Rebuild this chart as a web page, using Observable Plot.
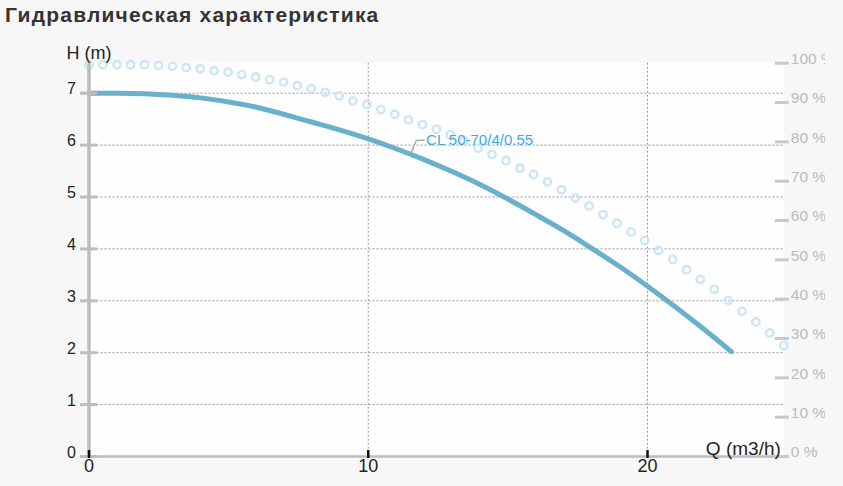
<!DOCTYPE html>
<html>
<head>
<meta charset="utf-8">
<script src="https://cdn.jsdelivr.net/npm/d3@7"></script>
<script src="https://cdn.jsdelivr.net/npm/@observablehq/plot@0.6"></script>
<style>
  body { margin: 0; background: #f7f7f7; font-family: "Liberation Sans", Arial, sans-serif; }
  #title { height: 36px; line-height: 30px; padding-left: 5px; font-size: 21px; letter-spacing: 1.2px; font-weight: bold; color: #333; }
</style>
</head>
<body>
<div id="title">Гидравлическая характеристика</div>
<div id="chart"></div>
<script>
// напор H(Q)
const hQ = [0, 1, 2, 3, 4, 5, 6, 7, 8, 9, 10, 11, 12, 13, 14, 15, 16, 17, 18, 19, 20, 21, 22, 23];
const hH = [7.0, 7.0, 6.99, 6.96, 6.91, 6.83, 6.73, 6.59, 6.44, 6.29, 6.12, 5.93, 5.72, 5.49, 5.24, 4.96, 4.66, 4.35, 4.01, 3.66, 3.28, 2.88, 2.46, 2.02];

// кпд, %
const effQ = [0, 0.5, 1.0, 1.49, 1.99, 2.49, 2.99, 3.48, 3.98, 4.48, 4.98, 5.47, 5.97, 6.47, 6.97, 7.46,
  7.96, 8.46, 8.96, 9.45, 9.95, 10.45, 10.95, 11.44, 11.94, 12.44, 12.94, 13.43, 13.93, 14.43, 14.93,
  15.43, 15.92, 16.42, 16.92, 17.42, 17.91, 18.41, 18.91, 19.41, 19.9, 20.4, 20.9, 21.4, 21.89, 22.39,
  22.89, 23.39, 23.88, 24.38, 24.88];
const effP = [99.6, 99.6, 99.6, 99.6, 99.6, 99.4, 99.2, 98.9, 98.6, 98.1, 97.7, 97.1, 96.5, 95.8, 95.2, 94.3,
  93.5, 92.6, 91.7, 90.4, 89.5, 88.2, 87.0, 85.6, 84.4, 83.2, 81.8, 80.3, 78.4, 76.8, 75.2,
  73.3, 71.7, 69.8, 67.8, 65.7, 63.7, 61.5, 59.3, 57.1, 54.9, 52.4, 50.1, 47.5, 45.0, 42.5,
  39.7, 36.9, 34.2, 31.4, 28.2];

const hTicks = [0, 1, 2, 3, 4, 5, 6, 7];
const qTicks = [0, 10, 20];
const pctTicks = [0, 10, 20, 30, 40, 50, 60, 70, 80, 90, 100];

const pumpName = "CL 50-70/4/0.55";
const labelAt = [{Q: 12.07, H: 6.10}];
const leader = [{Q: 11.54, H: 5.86}, {Q: 11.72, H: 6.09}, {Q: 12.0, H: 6.10}];

const HMAX = 7.578; // верх шкалы H совпадает со 100 %
const pct = p => p / 100 * HMAX;

const head = hQ.map((q, i) => ({Q: q, H: hH[i]}));
const eff = effQ.map((q, i) => ({Q: q, P: effP[i]}));

const chart = Plot.plot({
  width: 825,
  height: 450,
  marginTop: 26.7,
  marginBottom: 30,
  marginLeft: 88.5,
  marginRight: 41.7,
  style: {background: "transparent", fontFamily: "Liberation Sans, Arial, sans-serif", overflow: "hidden"},
  x: {domain: [0, 24.88], axis: null},
  y: {domain: [0, HMAX], axis: null},
  marks: [
    Plot.frame({fill: "#fefefe", stroke: "none"}),
    Plot.gridY(hTicks.slice(1), {stroke: "#999", strokeOpacity: 1, strokeDasharray: "2,2"}),
    Plot.gridX(qTicks.slice(1), {stroke: "#999", strokeOpacity: 1, strokeDasharray: "2,2"}),
    Plot.dot(eff, {x: "Q", y: d => pct(d.P), r: 3.7, stroke: "#cde6f4", strokeWidth: 2.4, fill: "none"}),
    Plot.line(head, {x: "Q", y: "H", stroke: "#69b0cc", strokeWidth: 5, curve: "monotone-x"}),
    Plot.line(leader, {x: "Q", y: "H", stroke: "#aaa", strokeWidth: 1.5}),
    Plot.text(labelAt, {x: "Q", y: "H", text: () => pumpName, textAnchor: "start", fill: "#3fa9de", fontSize: 15}),
    // оси
    Plot.ruleX([0], {stroke: "#bdbdbd", strokeWidth: 3.5}),
    Plot.ruleY([0], {stroke: "#bdbdbd", strokeWidth: 2.5, insetLeft: -8}),
    Plot.axisY(hTicks, {anchor: "left", label: null, tickSize: 17, dx: 8.5, stroke: "#bdbdbd", strokeWidth: 3, tickFormat: () => ""}),
    Plot.axisY(hTicks, {anchor: "left", label: null, tickSize: 0, tickPadding: 13, dy: -4, fontSize: 16, fill: "#222", tickFormat: d => String(d)}),
    Plot.axisX(qTicks, {anchor: "bottom", label: null, tickSize: 8, dy: -6, stroke: "#111", strokeWidth: 2.5, tickFormat: () => ""}),
    Plot.axisX(qTicks, {anchor: "bottom", label: null, tickSize: 0, tickPadding: 3, fontSize: 18, fill: "#222", tickFormat: d => String(d)}),
    Plot.axisY(pctTicks.map(pct), {anchor: "right", label: null, tickSize: 14, dx: -9.5, stroke: "#c8c8c8", strokeWidth: 3, tickFormat: () => ""}),
    Plot.axisY(pctTicks.map(pct), {anchor: "right", label: null, tickSize: 0, tickPadding: 7, dy: -4, fontSize: 15.5, fill: "#bbb",
      tickFormat: d => Math.round(d / HMAX * 100) + " %"}),
    Plot.text(["H (m)"], {frameAnchor: "top-left", lineAnchor: "middle", textAnchor: "middle", dy: -9.7, fontSize: 18, fill: "#222"}),
    Plot.text(["Q (m3/h)"], {frameAnchor: "bottom-right", lineAnchor: "middle", textAnchor: "end", dx: -3, dy: -7.7, fontSize: 19, fill: "#222"})
  ]
});

d3.select("#chart").append(() => chart);
</script>
</body>
</html>
